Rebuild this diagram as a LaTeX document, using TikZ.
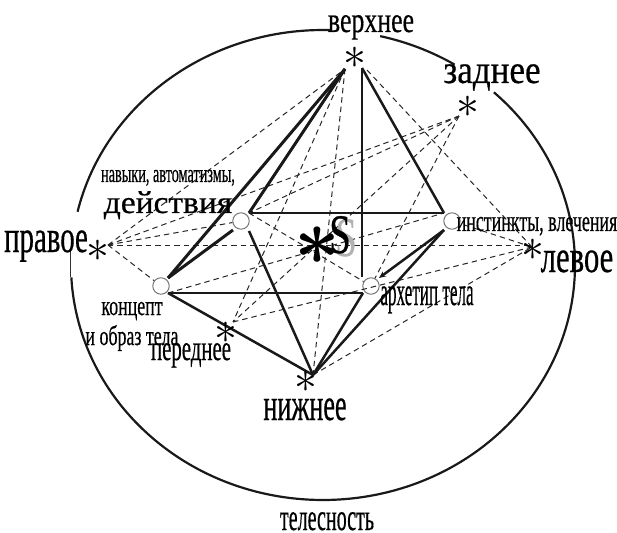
\documentclass[tikz,border=0pt]{standalone}
\usepackage{fontspec}
\setmainfont[FakeBold=0.6]{Liberation Serif}
\usetikzlibrary{arrows.meta}
\newcommand{\fsz}[1]{\fontsize{#1}{#1}\selectfont}
\tikzset{
  lab/.style n args={2}{inner sep=0pt,anchor=base,xscale=#2,font=\fsz{#1}},
  astr/.style={inner sep=0pt,scale=#1},
  solid line/.style={line width=2.5pt,draw=black!90},
  thick line/.style={line width=3pt,draw=black!90},
  dash line/.style={line width=1pt,draw=black!85,dash pattern=on 5.5pt off 4pt},
  oval/.style={line width=2.2pt,draw=black!90},
  ring/.style={circle,draw=black!55,line width=1pt,minimum size=16.5pt,inner sep=0pt}
}
\newcommand{\astglyph}{\smash{\raisebox{-.25em}{$\ast$}}}
\newcommand{\astbold}{\smash{\raisebox{-.25em}{\boldmath$\ast$}}}
\begin{document}
\begin{tikzpicture}[x=1bp,y=-1bp]
\useasboundingbox (0,0) rectangle (617,533);
% outer oval, in arcs
\coordinate (O) at (323,265);
\draw[oval] (O) ++(193.1:252 and 235) arc[start angle=193.1,end angle=271.7,x radius=252,y radius=235];
\draw[oval] (O) ++(-76.9:252 and 235) arc[start angle=-76.9,end angle=-58.5,x radius=252,y radius=235];
\draw[oval] (O) ++(-47.3:252 and 235) arc[start angle=-47.3,end angle=177,x radius=252,y radius=235];
\draw[line width=0.8pt,black!80] (70,250) -- (70,277);
% ring nodes
\node[ring] (cA) at (241,221) {};
\node[ring] (cD) at (452,221) {};
\node[ring] (cK) at (161,286) {};
\node[ring] (cE) at (371,286) {};
% connector ends
\coordinate (a1) at (345,69);
\coordinate (a2) at (362,68);
\coordinate (a3) at (367,70);
\coordinate (vA) at (249,213);
\coordinate (vD) at (444,213);
\coordinate (vK) at (168,293);
\coordinate (vE) at (363,293);
\coordinate (uK) at (168,278);
\coordinate (uE) at (362,277);
\coordinate (lA) at (233,230);
\coordinate (mA) at (249,231);
\coordinate (lD) at (444,230);
\coordinate (aE) at (379,278);
\coordinate (pN) at (313,375);
\coordinate (pR) at (108,245);
\coordinate (pL) at (530,245);
\coordinate (pB) at (459,116);
\coordinate (pF) at (233,322);
\coordinate (qL) at (532,247);
% dashed
\foreach \p/\q in {pR/a1,pR/pB,pR/pL,pB/vA,pB/pF,a1/pF,a1/pN,a3/qL,pN/qL,pF/qL,vK/vD,vA/cE}
  \draw[dash line] (\p) -- (\q);
\draw[dash line] (pR) -- (cA);
\draw[dash line] (pR) -- (cK);
\draw[dash line] (pB) -- (cE);
\draw[dash line] (qL) -- (cD);
% solid
\draw[thick line] (a1) -- (uK);
\draw[thick line] (a1) -- (vA);
\draw[thick line] (lA) -- (uK);
\draw[thick line] (vA) -- (vD);
\draw[thick line] (vK) -- (vE);
\draw[solid line] (a2) -- (uE);
\draw[solid line] (a2) -- (vD);
\draw[solid line] (vK) -- (pN);
\draw[solid line] (mA) -- (pN);
\draw[solid line] (vE) -- (pN);
\draw[solid line] (lD) -- (pN);
\draw[solid line,-{Stealth[length=7pt,width=6pt]}] (lD) -- (aE);
% stars
\node[astr=4.6] (sT) at (355,57) {\astglyph};
\node[astr=4.6] (sB) at (468,106) {\astglyph};
\node[astr=4.6] (sL) at (533,249) {\astglyph};
\node[astr=4.6] (sR) at (98,250) {\astglyph};
\node[astr=4.6] (sF) at (226,332) {\astglyph};
\node[astr=4.6] (sN) at (306,381) {\astglyph};
\node[astr=8] (sC) at (317,245) {\astbold};
% S
\node[inner sep=0pt,anchor=base,xscale=.7,font=\fsz{56},text=black!30] (Sg) at (346,256) {S};
\node[inner sep=0pt,anchor=base,xscale=.7,font=\fsz{56}] (S) at (340,253) {S};
% labels
\node[lab={36}{.72}] (t1) at (371,32) {верхнее};
\node[lab={40}{.88}] (t2) at (492,83) {заднее};
\node[lab={46}{.63}] (t3) at (46,252) {правое};
\node[lab={46}{.67}] (t4) at (577,272) {левое};
\node[lab={46}{.57}] (t5) at (305,420) {нижнее};
\node[lab={36}{.58}] (t6) at (191,360) {переднее};
\node[lab={38}{.53}] (t7) at (327,530) {телесность};
\node[lab={26}{.55}] (t8) at (168,182) {навыки, автоматизмы,};
\node[lab={32}{1.05}] (t9) at (168,213) {действия};
\node[lab={28}{.64}] (t10) at (132,315) {концепт};
\node[lab={28}{.64}] (t11) at (132,345) {и образ тела};
\node[lab={30}{.6}] (t12) at (537,231) {инстинкты, влечения};
\node[lab={40}{.43}] (t13) at (427,305) {архетип тела};
\end{tikzpicture}
\end{document}
